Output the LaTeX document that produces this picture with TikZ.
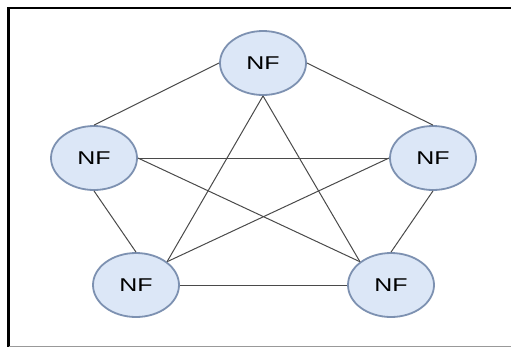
\documentclass[tikz,border=0pt]{standalone}
\usepackage{fontspec}
\setmainfont{Liberation Sans}
\usetikzlibrary{shapes.geometric}
\definecolor{nffill}{HTML}{DCE7F7}
\definecolor{nfdraw}{HTML}{7D91B1}
\definecolor{edgecol}{HTML}{4A4A4A}
\tikzset{
  nf/.style={ellipse, draw=nfdraw, fill=nffill, line width=1.8pt,
    minimum width=86pt, minimum height=64pt, inner sep=0pt,
    font=\fontsize{18.5}{18.5}\selectfont},
  link/.style={draw=edgecol, line width=1pt}
}
\newcommand{\nftext}{\scalebox{1.35}[1]{NF}}
\begin{document}
\begin{tikzpicture}[x=1pt,y=-1pt]
\useasboundingbox (0,0) rectangle (511,349);
\fill[white] (0,0) rectangle (511,349);
% frame
\coordinate (fTL) at (8.5,8);
\coordinate (fTR) at (511,8);
\coordinate (fBL) at (8.5,346.5);
\coordinate (fBR) at (511,346.5);
\draw[black, line width=2.5pt] (fTR) -- (fTL) -- (fBL);
\draw[gray!80, line width=1.5pt] (fBL) -- (fBR);
% nodes
\node[nf] (t)  at (263,63)  {\nftext};
\node[nf] (l)  at (94,158)  {\nftext};
\node[nf] (r)  at (433,158) {\nftext};
\node[nf] (bl) at (136,285) {\nftext};
\node[nf] (br) at (391,285) {\nftext};
% edges
\draw[link] (t.west) -- (l.north);
\draw[link] (t.east) -- (r.north);
\draw[link] (t.south) -- (bl.north east);
\draw[link] (t.south) -- (br.north west);
\draw[link] (l.east) -- (r.west);
\draw[link] (l.east) -- (br.north west);
\draw[link] (r.west) -- (bl.north east);
\draw[link] (l.south) -- (bl.north);
\draw[link] (r.south) -- (br.north);
\draw[link] (bl.east) -- (br.west);
\end{tikzpicture}
\end{document}
